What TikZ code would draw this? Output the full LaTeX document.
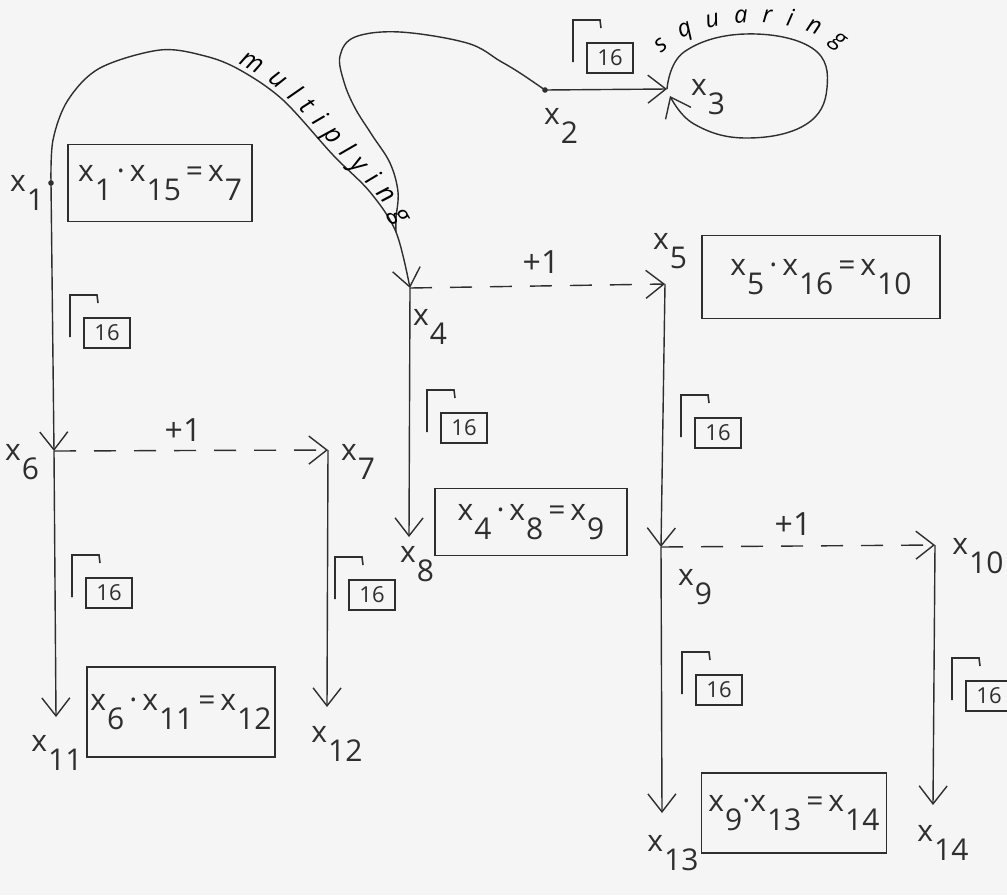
\documentclass[tikz,border=0pt]{standalone}
\usepackage{fontspec}
\setmainfont{Open Sans}
\usetikzlibrary{arrows.meta,decorations.text}
\colorlet{ink}{black!82}
\newcommand\xv[1]{x\kern1pt\raisebox{-0.62em}{#1}}
\newcommand\labfont{\fontsize{30}{34}\selectfont}
\newcommand\boxfont{\fontsize{30}{34}\selectfont}
\begin{document}
\begin{tikzpicture}[x=1pt,y=-1pt,line width=1.4pt,color=ink,
  >={Straight Barb[length=18pt,width=28pt]},
  lab/.style={font=\labfont,text=ink,inner sep=0pt},
  eqbox/.style={draw=ink,line width=1.4pt,font=\boxfont,text=ink,inner sep=0pt},
  dsh/.style={dash pattern=on 22pt off 18pt},
  gam/.pic={
    \draw[line width=1.6pt] (0,42) -- (0,0) -- (27,0) -- (28,8);
    \node[draw=ink,line width=1.3pt,inner sep=0pt,minimum width=46pt,minimum height=30pt,
          font=\fontsize{22}{24}\selectfont,text=ink] (-box) at (37,38) {16};
  }]
\fill[black!4] (0,0) rectangle (1007,895);
\useasboundingbox (0,0) rectangle (1007,895);

% points
\coordinate (p1) at (51,183);
\coordinate (p2) at (545,90);
\coordinate (p3) at (667,89);
\coordinate (p3b) at (670,96);
\coordinate (p4) at (410,288);
\coordinate (m) at (396,232);
\coordinate (p5) at (665,284);
\coordinate (p6) at (54,451);
\coordinate (p7) at (328,450);
\coordinate (p8) at (409,537);
\coordinate (p9) at (661,547);
\coordinate (p10) at (935,545);
\coordinate (p11) at (56,717);
\coordinate (p12) at (327,707);
\coordinate (p13) at (662,813);
\coordinate (p14) at (933,805);

\fill (p1) circle (2.8pt);
\fill (p2) circle (2.8pt);

% multiplying curves
\draw[->] plot[smooth,tension=0.55] coordinates {(p1) (53,140) (68,100) (100,68) (160,50) (205,56) (240,70) (283,100) (333,155) (370,192) (m) (p4)};
\draw plot[smooth,tension=0.6] coordinates {(p2) (520,73) (500,61) (467,43) (400,32) (355,37) (340,56) (344,82) (355,108) (372,135) (390,163) (398,192) (396,218) (m)};
\path[decorate,decoration={text along path,raise=5pt,text align=fit to path,
  text={|\fontsize{26}{30}\selectfont\itshape|multiplying}}]
  (236,68) .. controls (265,80) and (300,115) .. (333,155) .. controls (355,180) and (383,205) .. (394,228);

% squaring
\draw[->] (p2) -- (p3);
\draw[->] plot[smooth,tension=0.7] coordinates {(p3) (684,52) (745,34) (812,48) (827,88) (805,125) (745,138) (694,124) (p3b)};
\path[decorate,decoration={text along path,raise=1pt,text align=fit to path,
  text={|\fontsize{24}{28}\selectfont\itshape|squaring}}]
  (662,54) .. controls (700,16) and (795,12) .. (840,50);

% vertical arrows
\draw[->] (p1) -- (p6);
\draw[->] (p6) -- (p11);
\draw[->] (p4) -- (p8);
\draw[->] (p5) -- (p9);
\draw[->] (p9) -- (p13);
\draw[->] (p7) -- (p12);
\draw[->] (p10) -- (p14);

% dashed +1 arrows
\draw[->,dsh] (p4) -- (p5);
\draw[->,dsh] (p6) -- (p7);
\draw[->,dsh] (p9) -- (p10);

\node[lab,font=\fontsize{32}{34}\selectfont] (plus1) at (541,262) {+1};
\node[lab,font=\fontsize{32}{34}\selectfont] (plus2) at (183,430) {+1};
\node[lab,font=\fontsize{32}{34}\selectfont] (plus3) at (793,524) {+1};

% gamma-16 marks
\pic (g1) at (70,295) {gam};
\pic (g2) at (573,20) {gam};
\pic (g3) at (427,390) {gam};
\pic (g4) at (681,395) {gam};
\pic (g5) at (72,555) {gam};
\pic (g6) at (335,557) {gam};
\pic (g7) at (682,652) {gam};
\pic (g8) at (952,658) {gam};

% labels
\node[lab] (l1) at (27,193) {\xv{1}};
\node[lab] (l2) at (561,126) {\xv{2}};
\node[lab] (l3) at (708,97) {\xv{3}};
\node[lab] (l4) at (430,327) {\xv{4}};
\node[lab] (l5) at (670,251) {\xv{5}};
\node[lab] (l6) at (22,462) {\xv{6}};
\node[lab] (l7) at (358,462) {\xv{7}};
\node[lab] (l8) at (417,564) {\xv{8}};
\node[lab] (l9) at (695,587) {\xv{9}};
\node[lab] (l10) at (978,556) {\xv{10}};
\node[lab] (l11) at (57,753) {\xv{11}};
\node[lab] (l12) at (337,744) {\xv{12}};
\node[lab] (l13) at (673,853) {\xv{13}};
\node[lab] (l14) at (943,843) {\xv{14}};

% equation boxes
\node[eqbox,minimum width=184pt,minimum height=77pt] (b1) at (160,183) {\xv{1}\,·\,\xv{15}\,=\,\xv{7}};
\node[eqbox,minimum width=238pt,minimum height=83pt] (b5) at (821,277) {\xv{5}\,·\,\xv{16}\,=\,\xv{10}};
\node[eqbox,minimum width=192pt,minimum height=67pt] (b4) at (531,522) {\xv{4}\,·\,\xv{8}\,=\,\xv{9}};
\node[eqbox,minimum width=188pt,minimum height=90pt] (b6) at (181,712) {\xv{6}\,·\,\xv{11}\,=\,\xv{12}};
\node[eqbox,minimum width=185pt,minimum height=80pt] (b9) at (794,813) {\xv{9}·\xv{13}\,=\,\xv{14}};
\end{tikzpicture}
\end{document}
